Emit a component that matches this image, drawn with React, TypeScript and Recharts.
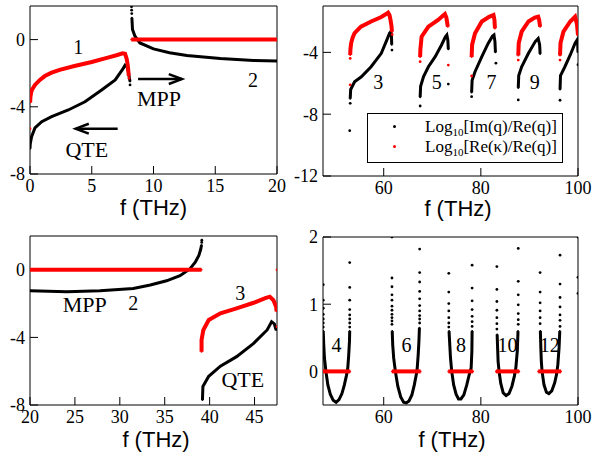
import { ScatterChart, Scatter, XAxis, YAxis, ReferenceDot, ReferenceLine, Legend } from 'recharts'

type Pt = [number, number]

const SERIF = "'Liberation Serif', 'Times New Roman', serif"
const SANS = "'Liberation Sans', Arial, sans-serif"
const RED = '#ff0000'
const BLACK = '#000000'

// ---- top left: 0-20 THz (branches 1 and 2)
const A_RE_QTE: Pt[] = [[0.01, -3.75], [0.03, -3.45], [0.08, -3.2], [0.15, -3.0], [0.4, -2.7], [0.8, -2.4], [1.2, -2.17], [1.75, -1.97], [2.4, -1.8], [3.6, -1.57], [5.0, -1.33], [6.3, -1.07], [7.0, -0.93], [7.5, -0.82], [7.7, -0.84], [7.83, -1.15], [7.93, -1.6], [8.0, -2.16]]
const A_RE_QTE_DOTS: Pt[] = [[0.0, -5.3], [8.02, -2.3]]
const A_IM_QTE: Pt[] = [[0.0, -6.5], [0.02, -6.2], [0.13, -5.78], [0.4, -5.26], [0.95, -4.89], [1.75, -4.59], [3.1, -4.19], [4.45, -3.7], [5.8, -3.0], [6.9, -2.4], [7.55, -1.71], [7.7, -1.52], [7.85, -1.6], [7.96, -1.91], [8.05, -2.3], [8.1, -2.5]]
const A_IM_QTE_DOTS: Pt[] = [[8.1, -2.7]]
const A_IM_MPP: Pt[] = [[8.25, 1.3], [8.27, 1.0], [8.3, 0.6], [8.5, 0.2], [8.9, -0.2], [10.0, -0.55], [11.3, -0.78], [12.7, -0.94], [15.4, -1.12], [18.1, -1.24], [20.0, -1.28]]
const A_IM_MPP_DOTS: Pt[] = [[8.22, 1.95], [8.23, 1.75], [8.24, 1.55]]
const A_RE_MPP: Pt[] = [[8.2, 0], [20, 0]]

// ---- top right: 47.5-100 THz (odd branches)
const B_RE_3: Pt[] = [[53.1, -4.17], [53.15, -3.8], [53.3, -3.4], [53.6, -3.05], [54.0, -2.75], [55.3, -2.34], [57.4, -2.0], [59.4, -1.73], [60.5, -1.52], [60.9, -1.43], [61.2, -1.6], [61.4, -1.9], [61.6, -2.3], [61.7, -2.66]]
const B_RE_3_DOTS: Pt[] = [[53.1, -4.39], [53.1, -6.1], [61.75, -2.85]]
const B_IM_3: Pt[] = [[53.1, -7.0], [53.2, -6.4], [54.0, -5.9], [55.4, -5.58], [57.4, -4.93], [59.5, -4.06], [60.5, -3.31], [61.2, -2.77], [61.5, -2.65], [61.6, -3.0], [61.65, -3.5]]
const B_IM_3_DOTS: Pt[] = [[53.1, -7.3], [53.0, -9.07], [61.7, -3.85]]
const B_RE_5: Pt[] = [[67.5, -4.3], [67.55, -3.8], [67.8, -2.98], [69.2, -2.34], [71.2, -1.9], [72.3, -1.6], [72.6, -1.52], [72.9, -1.75], [73.2, -2.34]]
const B_RE_5_DOTS: Pt[] = [[67.5, -4.6], [73.3, -4.82]]
const B_IM_5: Pt[] = [[67.5, -6.9], [67.6, -6.2], [68.2, -5.57], [69.2, -4.93], [70.6, -4.28], [71.9, -3.52], [72.7, -3.0], [73.0, -2.88], [73.2, -3.2], [73.3, -3.8]]
const B_IM_5_DOTS: Pt[] = [[67.5, -7.47], [73.3, -6.05]]
const B_RE_7: Pt[] = [[78.1, -4.3], [78.2, -3.5], [78.8, -2.77], [80.2, -2.0], [81.7, -1.7], [82.6, -1.58], [82.8, -1.9], [82.9, -2.45]]
const B_RE_7_DOTS: Pt[] = [[78.1, -5.53]]
const B_IM_7: Pt[] = [[78.1, -6.6], [78.2, -5.8], [78.8, -5.25], [80.2, -4.28], [81.5, -3.42], [82.4, -2.95], [82.7, -2.88], [82.9, -3.3], [83.0, -4.0]]
const B_IM_7_DOTS: Pt[] = [[78.1, -6.87], [83.1, -4.7]]
const B_RE_9: Pt[] = [[87.7, -4.2], [87.8, -3.4], [88.4, -2.66], [89.8, -2.0], [91.1, -1.75], [91.8, -1.69], [92.0, -1.9], [92.2, -2.34]]
const B_RE_9_DOTS: Pt[] = [[87.7, -4.5]]
const B_IM_9: Pt[] = [[87.7, -6.3], [87.8, -5.5], [88.4, -4.93], [89.8, -4.06], [91.2, -3.3], [91.8, -3.1], [92.1, -3.5], [92.2, -4.1]]
const B_IM_9_DOTS: Pt[] = [[87.7, -7.08]]
const B_RE_11: Pt[] = [[96.3, -4.2], [96.4, -3.4], [97.0, -2.66], [98.4, -2.0], [99.4, -1.69], [99.8, -2.2], [100, -2.9]]
const B_RE_11_DOTS: Pt[] = [[96.3, -4.5]]
const B_IM_11: Pt[] = [[96.3, -6.4], [96.4, -5.5], [97.3, -4.93], [98.4, -4.17], [99.4, -3.4], [99.9, -3.15], [100, -4.0]]
const B_IM_11_DOTS: Pt[] = [[96.3, -7.1], [100, -4.8]]

// ---- bottom left: 20-47.5 THz
const C_RE_MPP: Pt[] = [[20, 0], [39.1, 0]]
const C_RE_MPP_DOTS: Pt[] = [[47.5, 0]]
const C_IM_MPP: Pt[] = [[20, -1.24], [24.1, -1.3], [27.8, -1.24], [31.5, -1.1], [33.4, -0.9], [35.2, -0.65], [36.7, -0.35], [37.8, 0.05], [38.4, 0.45], [38.8, 0.85], [39.0, 1.2], [39.1, 1.47]]
const C_IM_MPP_DOTS: Pt[] = [[39.12, 1.62], [39.13, 1.75]]
const C_RE_QTE: Pt[] = [[39.1, -4.85], [39.1, -4.15], [39.3, -3.56], [39.9, -2.97], [41.2, -2.57], [43.0, -2.28], [44.9, -1.95], [46.2, -1.68], [46.7, -1.59], [47.1, -1.8], [47.4, -2.18], [47.45, -2.45]]
const C_RE_QTE_DOTS: Pt[] = [[47.5, -3.37]]
const C_IM_QTE: Pt[] = [[39.2, -7.7], [39.25, -6.9], [39.9, -6.3], [41.2, -5.7], [43.0, -5.14], [44.9, -4.35], [46.4, -3.56], [46.9, -3.07], [47.2, -3.2], [47.4, -3.56]]

// ---- bottom right: 47.5-100 THz (even branches)
const D_IM_4: Pt[] = [[47.55, 0.6], [47.65, 0.4], [47.8, 0.2], [48.1, 0.0], [48.5, -0.2], [49.0, -0.34], [49.6, -0.43], [50.2, -0.46], [50.8, -0.42], [51.4, -0.33], [51.9, -0.2], [52.3, -0.07], [52.6, 0.05], [52.8, 0.25], [52.95, 0.45], [53.0, 0.6]]
const D_IM_4_ARMS: Pt[] = [[47.55, 0.66], [47.55, 0.72], [47.55, 0.78], [47.55, 0.85], [47.55, 0.94], [47.55, 1.06], [47.55, 1.29], [53.0, 0.66], [53.0, 0.72], [53.0, 0.78], [53.0, 0.84], [53.0, 0.92], [53.0, 1.06], [53.0, 1.25], [53.0, 1.62]]
const D_IM_6: Pt[] = [[61.75, 0.6], [61.85, 0.4], [62.05, 0.2], [62.4, 0.0], [62.9, -0.22], [63.5, -0.38], [64.1, -0.46], [64.65, -0.47], [65.2, -0.44], [65.8, -0.35], [66.3, -0.2], [66.7, -0.05], [66.9, 0.05], [67.1, 0.25], [67.25, 0.45], [67.35, 0.65]]
const D_IM_6_ARMS: Pt[] = [[61.7, 0.7], [61.7, 0.75], [61.7, 0.8], [61.7, 0.85], [61.7, 0.91], [61.7, 0.97], [61.7, 1.06], [61.7, 1.14], [61.7, 1.26], [61.7, 1.39], [61.7, 2.0], [67.4, 0.72], [67.4, 0.78], [67.4, 0.83], [67.4, 0.9], [67.4, 0.98], [67.4, 1.08], [67.4, 1.19], [67.4, 1.33], [67.4, 1.47], [67.4, 1.82]]
const D_IM_8: Pt[] = [[73.45, 0.6], [73.6, 0.4], [73.75, 0.2], [74.0, 0.0], [74.4, -0.2], [74.9, -0.34], [75.4, -0.41], [75.9, -0.41], [76.5, -0.35], [77.1, -0.2], [77.6, -0.05], [78.0, 0.05], [78.15, 0.3], [78.2, 0.6]]
const D_IM_8_ARMS: Pt[] = [[73.4, 0.66], [73.4, 0.72], [73.4, 0.8], [73.4, 0.9], [73.4, 1.01], [73.4, 1.18], [73.4, 1.46], [78.2, 0.67], [78.2, 0.74], [78.2, 0.82], [78.2, 0.92], [78.2, 1.05], [78.2, 1.24], [78.2, 1.58]]
const D_IM_10: Pt[] = [[83.35, 0.55], [83.45, 0.35], [83.55, 0.15], [83.75, 0.0], [84.1, -0.18], [84.6, -0.32], [85.2, -0.36], [85.8, -0.33], [86.4, -0.22], [86.9, -0.07], [87.2, 0.05], [87.5, 0.3], [87.65, 0.6]]
const D_IM_10_ARMS: Pt[] = [[83.3, 0.63], [83.3, 0.71], [83.3, 0.8], [83.3, 0.91], [83.3, 1.04], [83.3, 1.22], [83.3, 1.56], [87.7, 0.7], [87.7, 0.77], [87.7, 0.86], [87.7, 0.99], [87.7, 1.14], [87.7, 1.34], [87.7, 1.83]]
const D_IM_12: Pt[] = [[92.25, 0.6], [92.35, 0.35], [92.45, 0.15], [92.6, 0.0], [93.0, -0.2], [93.5, -0.31], [94.0, -0.33], [94.6, -0.29], [95.2, -0.17], [95.6, -0.04], [95.85, 0.1], [96.1, 0.35], [96.25, 0.6]]
const D_IM_12_ARMS: Pt[] = [[92.2, 0.71], [92.2, 0.8], [92.2, 0.9], [92.2, 1.02], [92.2, 1.18], [92.2, 1.47], [96.3, 0.67], [96.3, 0.76], [96.3, 0.84], [96.3, 0.96], [96.3, 1.1], [96.3, 1.3], [96.3, 1.73]]
const D_IM_14_ARMS: Pt[] = [[100, 1.16], [100, 1.4], [100, 2.0]]
const D_RE_4: Pt[] = [[47.5, 0], [53.1, 0]]
const D_RE_6: Pt[] = [[61.7, 0], [67.6, 0]]
const D_RE_8: Pt[] = [[73.3, 0], [78.4, 0]]
const D_RE_10: Pt[] = [[83.1, 0], [87.9, 0]]
const D_RE_12: Pt[] = [[91.8, 0], [96.5, 0]]

// ---- annotations (data coordinates)
const A_NOTES = [{ x: 3.9, y: -0.45, text: '1' }, { x: 18.05, y: -2.4, text: '2' }, { x: 10.45, y: -3.48, text: 'MPP' }, { x: 4.6, y: -6.57, text: 'QTE' }]
const A_ARROWS: { from: Pt; to: Pt }[] = [{ from: [8.75, -2.35], to: [12.3, -2.35] }, { from: [7.1, -5.3], to: [3.7, -5.3] }]
const B_NOTES = [{ x: 58.9, y: -5.9, text: '3' }, { x: 70.9, y: -5.9, text: '5' }, { x: 82.2, y: -5.9, text: '7' }, { x: 91.1, y: -5.9, text: '9' }]
const C_NOTES = [{ x: 26.1, y: -2.08, text: 'MPP' }, { x: 31.5, y: -1.96, text: '2' }, { x: 43.4, y: -1.37, text: '3' }, { x: 43.7, y: -6.5, text: 'QTE' }]
const D_NOTES = [{ x: 50.3, y: 0.39, text: '4' }, { x: 64.7, y: 0.39, text: '6' }, { x: 75.9, y: 0.39, text: '8' }, { x: 85.5, y: 0.39, text: '10' }, { x: 94.2, y: 0.39, text: '12' }]

const LEGEND_ITEMS = [
  { color: BLACK, ratio: 'Im(q)/Re(q)' },
  { color: RED, ratio: 'Re(κ)/Re(q)' },
]

interface Series { pts: Pt[]; color: string; width?: number }

const line = (pts: Pt[], color: string): Series => ({ pts, color, width: color === RED ? 4 : 3 })
const dots = (pts: Pt[], color: string): Series => ({ pts, color })

const toXY = (pts: Pt[]) => pts.map(([x, y]) => ({ x, y }))

const TICK_FONT = { fontFamily: SERIF, fontSize: 18, fill: '#000' }
const STROKE = { stroke: '#000', strokeWidth: 1 }

function AxisTitle(props: any) {
  const vb = props.viewBox || { x: 0, y: 0, width: 0 }
  return (
    <text x={vb.x + vb.width / 2 + props.shiftX} y={vb.y + props.baseY} textAnchor="middle"
      style={{ fontFamily: SANS, fontSize: '22px', fill: '#000' }}>f (THz)</text>
  )
}

function ArrowShape(props: any) {
  const { x1, y1, x2, y2 } = props
  const a = Math.atan2(y2 - y1, x2 - x1)
  const L = 14
  const w = 0.36
  const p1 = `${x2 - L * Math.cos(a - w)},${y2 - L * Math.sin(a - w)}`
  const p2 = `${x2 - L * Math.cos(a + w)},${y2 - L * Math.sin(a + w)}`
  return (
    <g stroke="#000" strokeWidth={2.5} fill="none">
      <line x1={x1} y1={y1} x2={x2} y2={y2} />
      <polyline points={`${p1} ${x2},${y2} ${p2}`} />
    </g>
  )
}

function LegendBox() {
  return (
    <div style={{ position: 'relative', width: 196, height: 50, border: '1px solid #000', background: '#fff', boxSizing: 'border-box', fontFamily: SERIF, fontSize: 17, color: '#000' }}>
      {LEGEND_ITEMS.map((it, i) => (
        <div key={i}>
          <span style={{ position: 'absolute', left: 25, top: 11 + i * 20, width: 3, height: 3, borderRadius: '50%', background: it.color }} />
          <span style={{ position: 'absolute', left: 57, top: 3 + i * 20, lineHeight: '20px', whiteSpace: 'nowrap' }}>
            Log<sub style={{ fontSize: 11, lineHeight: 0 }}>10</sub>[{it.ratio}]
          </span>
        </div>
      ))}
    </div>
  )
}

interface PanelProps {
  left: number
  top: number
  width: number
  height: number
  // plot box edges, relative to the panel
  box: { top: number; right: number; bottom: number; left: number }
  xDomain: [number, number]
  yDomain: [number, number]
  xTicks: number[]
  xMajor: number[]
  yTicks: number[]
  yMajor: number[]
  series: Series[]
  notes: { x: number; y: number; text: string }[]
  arrows?: { from: Pt; to: Pt }[]
  titleShift: number
  titleY: number
  legend?: boolean
}

function Panel(p: PanelProps) {
  // two 1px axes per side (major + minor ticks)
  const margin = { top: p.box.top - 2, right: p.box.right - 2, bottom: p.box.bottom - 2, left: p.box.left - 2 }
  const xMinor = p.xTicks.filter((t) => !p.xMajor.includes(t))
  const yMinor = p.yTicks.filter((t) => !p.yMajor.includes(t))
  const xc = { type: 'number' as const, domain: p.xDomain, allowDataOverflow: true, interval: 0 as const, height: 1, tickLine: STROKE }
  const yc = { type: 'number' as const, domain: p.yDomain, allowDataOverflow: true, interval: 0 as const, width: 1, tickLine: STROKE }
  return (
    <div style={{ position: 'absolute', left: p.left, top: p.top }}>
      <ScatterChart width={p.width} height={p.height} margin={margin}>
        <XAxis {...xc} dataKey="x" ticks={p.xMajor} tickSize={-8} tickMargin={13} axisLine={STROKE} tick={TICK_FONT}
          label={<AxisTitle shiftX={p.titleShift} baseY={p.titleY} />} />
        <XAxis {...xc} xAxisId="bm" ticks={xMinor} tickSize={-4} axisLine={false} tick={false} />
        <XAxis {...xc} xAxisId="tM" orientation="top" ticks={p.xMajor} tickSize={-8} axisLine={STROKE} tick={false} />
        <XAxis {...xc} xAxisId="tm" orientation="top" ticks={xMinor} tickSize={-4} axisLine={false} tick={false} />
        <YAxis {...yc} dataKey="y" ticks={p.yMajor} tickSize={-8} tickMargin={13} axisLine={STROKE} tick={TICK_FONT} />
        <YAxis {...yc} yAxisId="lm" ticks={yMinor} tickSize={-4} axisLine={false} tick={false} />
        <YAxis {...yc} yAxisId="rM" orientation="right" ticks={p.yMajor} tickSize={-8} axisLine={STROKE} tick={false} />
        <YAxis {...yc} yAxisId="rm" orientation="right" ticks={yMinor} tickSize={-4} axisLine={false} tick={false} />
        {p.series.map((s, i) => (
          <Scatter key={i} name={`s${i}`} data={toXY(s.pts)} fill={s.color} isAnimationActive={false}
            line={s.width ? { stroke: s.color, strokeWidth: s.width } : false}
            shape={(sp: any) => <circle cx={sp.cx} cy={sp.cy} r={s.width ? 1 : 1.4} fill={s.color} />} />
        ))}
        {(p.arrows || []).map((a, i) => (
          <ReferenceLine key={`a${i}`} segment={[{ x: a.from[0], y: a.from[1] }, { x: a.to[0], y: a.to[1] }]}
            shape={ArrowShape} />
        ))}
        {p.notes.map((n, i) => (
          <ReferenceDot key={`n${i}`} x={n.x} y={n.y} r={0}
            shape={(dp: any) => (
              <text x={dp.cx} y={dp.cy} textAnchor="middle" dominantBaseline="central"
                style={{ fontFamily: SERIF, fontSize: /^\d+$/.test(n.text) ? '20px' : '22px', fill: '#000' }}>{n.text}</text>
            )} />
        ))}
        {p.legend && (
          <Legend layout="vertical" align="center" verticalAlign="middle" content={<LegendBox />}
            wrapperStyle={{ left: 82, top: 113, width: 196, height: 50 }} />
        )}
      </ScatterChart>
    </div>
  )
}

const HIGH_X = [50, 60, 70, 80, 90, 100]
const HIGH_X_MAJOR = [60, 80, 100]

export default function App() {
  return (
    <div style={{ position: 'absolute', left: 0, top: 0, width: 597, height: 452, background: '#fff' }}>
      <Panel left={0} top={0} width={300} height={226} box={{ top: 6, right: 23, bottom: 52, left: 30 }}
        xDomain={[0, 20]} yDomain={[-8, 2]}
        xTicks={[0, 2.5, 5, 7.5, 10, 12.5, 15, 17.5, 20]} xMajor={[0, 5, 10, 15, 20]}
        yTicks={[-8, -6, -4, -2, 0, 2]} yMajor={[-8, -4, 0]}
        series={[
          line(A_IM_QTE, BLACK), dots(A_IM_QTE_DOTS, BLACK), line(A_IM_MPP, BLACK), dots(A_IM_MPP_DOTS, BLACK),
          line(A_RE_QTE, RED), dots(A_RE_QTE_DOTS, RED), line(A_RE_MPP, RED),
        ]}
        notes={A_NOTES} arrows={A_ARROWS} titleShift={0} titleY={41} />
      <Panel left={285} top={0} width={312} height={226} box={{ top: 6, right: 19, bottom: 50, left: 38 }}
        xDomain={[47.5, 100]} yDomain={[-12, -1]}
        xTicks={HIGH_X} xMajor={HIGH_X_MAJOR}
        yTicks={[-12, -10, -8, -6, -4, -2]} yMajor={[-12, -8, -4]}
        series={[
          line(B_IM_3, BLACK), dots(B_IM_3_DOTS, BLACK), line(B_IM_5, BLACK), dots(B_IM_5_DOTS, BLACK),
          line(B_IM_7, BLACK), dots(B_IM_7_DOTS, BLACK), line(B_IM_9, BLACK), dots(B_IM_9_DOTS, BLACK),
          line(B_IM_11, BLACK), dots(B_IM_11_DOTS, BLACK),
          line(B_RE_3, RED), dots(B_RE_3_DOTS, RED), line(B_RE_5, RED), dots(B_RE_5_DOTS, RED),
          line(B_RE_7, RED), dots(B_RE_7_DOTS, RED), line(B_RE_9, RED), dots(B_RE_9_DOTS, RED),
          line(B_RE_11, RED), dots(B_RE_11_DOTS, RED),
        ]}
        notes={B_NOTES} titleShift={7.5} titleY={40} legend />
      <Panel left={0} top={226} width={300} height={226} box={{ top: 10, right: 23, bottom: 47, left: 30 }}
        xDomain={[20, 47.5]} yDomain={[-8, 2]}
        xTicks={[20, 22.5, 25, 27.5, 30, 32.5, 35, 37.5, 40, 42.5, 45]} xMajor={[20, 25, 30, 35, 40, 45]}
        yTicks={[-8, -6, -4, -2, 0, 2]} yMajor={[-8, -4, 0]}
        series={[
          line(C_IM_MPP, BLACK), dots(C_IM_MPP_DOTS, BLACK), line(C_IM_QTE, BLACK),
          line(C_RE_MPP, RED), dots(C_RE_MPP_DOTS, RED), line(C_RE_QTE, RED), dots(C_RE_QTE_DOTS, RED),
        ]}
        notes={C_NOTES} titleShift={2.5} titleY={42} />
      <Panel left={285} top={226} width={312} height={226} box={{ top: 11, right: 19, bottom: 47, left: 38 }}
        xDomain={[47.5, 100]} yDomain={[-0.5, 2]}
        xTicks={HIGH_X} xMajor={HIGH_X_MAJOR}
        yTicks={[0, 0.5, 1, 1.5, 2]} yMajor={[0, 1, 2]}
        series={[
          line(D_IM_4, BLACK), dots(D_IM_4_ARMS, BLACK), line(D_IM_6, BLACK), dots(D_IM_6_ARMS, BLACK),
          line(D_IM_8, BLACK), dots(D_IM_8_ARMS, BLACK), line(D_IM_10, BLACK), dots(D_IM_10_ARMS, BLACK),
          line(D_IM_12, BLACK), dots(D_IM_12_ARMS, BLACK), dots(D_IM_14_ARMS, BLACK),
          line(D_RE_4, RED), line(D_RE_6, RED), line(D_RE_8, RED), line(D_RE_10, RED), line(D_RE_12, RED),
        ]}
        notes={D_NOTES} titleShift={1.5} titleY={42} />
    </div>
  )
}
